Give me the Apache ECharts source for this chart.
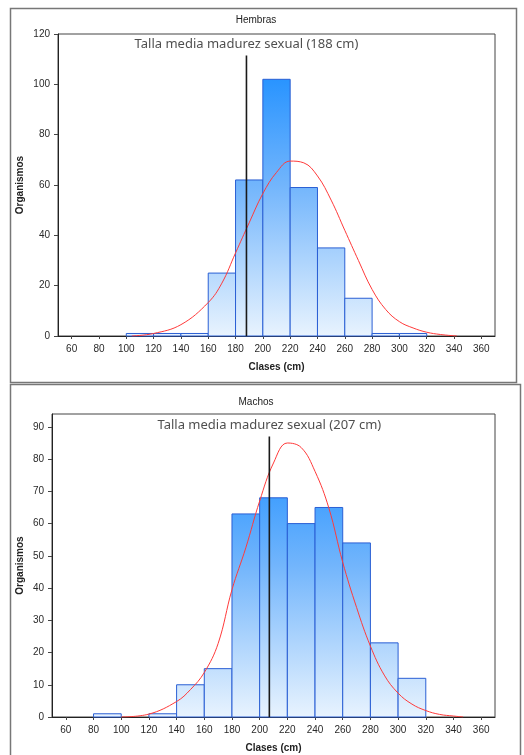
<!DOCTYPE html>
<html>
<head>
<meta charset="utf-8">
<script src="https://cdn.jsdelivr.net/npm/echarts@6/dist/echarts.min.js"></script>
<style>
  html, body { margin: 0; padding: 0; background: #ffffff; }
  #chart { width: 524px; height: 755px; }
</style>
</head>
<body>
<div id="chart"></div>
<script>
// Histogram classes (cm): each bin starts at a value and is 20 cm wide
const binStarts = [80, 100, 120, 140, 160, 180, 200, 220, 240, 260, 280, 300];
const binWidth = 20;

// Number of organisms per class
const hembrasCounts = [0, 1, 1, 1, 25, 62, 102, 59, 35, 15, 1, 1];
const machosCounts  = [1, 0, 1, 10, 15, 63, 68, 60, 65, 54, 23, 12];

// Fitted normal curves (cm, organisms)
const hembrasCurveX = [104, 120, 140, 160, 170, 180, 190, 200, 210, 220, 230, 240, 250, 260, 270, 280, 290, 300, 310, 320, 330, 342];
const hembrasCurveY = [0, 1, 4.5, 13.3, 21, 33, 45, 56.6, 65, 69.5, 68.8, 63.6, 54, 42, 30, 18.5, 10.5, 5.7, 3.2, 1.5, 0.6, 0];
const machosCurveX = [100, 120, 140, 150, 160, 170, 180, 190, 200, 210, 220, 230, 240, 250, 260, 270, 280, 290, 300, 310, 320, 330, 340, 347];
const machosCurveY = [0, 0.9, 4.8, 8.5, 13.8, 22.8, 39.5, 52.5, 67, 78.8, 85, 83.6, 76.2, 64.8, 48, 34, 22, 13, 7.4, 4, 2, 0.8, 0.3, 0];

// Mean length at sexual maturity and the height of its marker line
const hembrasMean = 188, hembrasMeanTop = 111.5;
const machosMean = 207, machosMeanTop = 87;

// Axis ticks
const xTicks = [60, 80, 100, 120, 140, 160, 180, 200, 220, 240, 260, 280, 300, 320, 340, 360];
const hembrasYTicks = [0, 20, 40, 60, 80, 100, 120];
const machosYTicks = [0, 10, 20, 30, 40, 50, 60, 70, 80, 90];

const FONT = "'Liberation Sans', Arial, sans-serif";
const barStops = [
  { offset: 0, color: '#1c8cff' },
  { offset: 0.15, color: '#2994ff' },
  { offset: 0.5, color: '#72b5fc' },
  { offset: 1, color: '#e8f3fe' }
];

function pairs(xs, ys) { return xs.map((x, i) => [x, ys[i]]); }

function barSeries(idx, counts, yMax) {
  return {
    type: 'custom',
    xAxisIndex: idx, yAxisIndex: idx,
    data: binStarts.map((s, i) => [s, s + binWidth, counts[i]]).filter(d => d[2] > 0),
    encode: { x: [0, 1], y: 2 },
    renderItem(params, api) {
      const base = api.coord([api.value(0), 0]);
      const top = api.coord([api.value(1), api.value(2)]);
      const plotTop = api.coord([api.value(0), yMax])[1];
      return {
        type: 'rect',
        shape: { x: base[0], y: top[1], width: top[0] - base[0], height: base[1] - top[1] },
        style: {
          fill: new echarts.graphic.LinearGradient(0, plotTop, 0, base[1], barStops, true),
          stroke: '#2a5fd4',
          lineWidth: 1
        }
      };
    },
    z: 2
  };
}

function curveSeries(idx, xs, ys) {
  return {
    type: 'line', xAxisIndex: idx, yAxisIndex: idx,
    data: pairs(xs, ys), smooth: 0.4, symbol: 'none',
    lineStyle: { color: '#ff3a3a', width: 1 }, z: 4
  };
}

function meanSeries(idx, mean, topVal) {
  return [{
    type: 'line', xAxisIndex: idx, yAxisIndex: idx,
    data: [[mean, 0], [mean, topVal]], symbol: 'none',
    lineStyle: { color: '#1a1a1a', width: 1.6 }, z: 5
  }, {
    type: 'scatter', xAxisIndex: idx, yAxisIndex: idx,
    data: [[mean, topVal]], symbolSize: 1,
    itemStyle: { color: 'rgba(0,0,0,0)' },
    label: {
      show: true, position: 'top', distance: 4,
      formatter: 'Talla media madurez sexual (' + mean + ' cm)',
      fontFamily: "'Noto Sans', sans-serif", fontSize: 13, color: '#222'
    },
    z: 6
  }];
}

function xAxisCfg(idx) {
  return {
    type: 'value', gridIndex: idx, min: 50, max: 370,
    name: 'Clases (cm)', nameLocation: 'middle', nameGap: 26, nameMoveOverlap: false,
    nameTextStyle: { fontFamily: FONT, fontSize: 10, fontWeight: 'bold', color: '#222' },
    axisLine: { lineStyle: { color: '#222', width: 1 } },
    axisTick: { show: true, length: 3, customValues: xTicks, lineStyle: { color: '#444' } },
    axisLabel: { customValues: xTicks, margin: 8, fontFamily: FONT, fontSize: 10, color: '#2a2a2a' },
    splitLine: { show: false }
  };
}

function yAxisCfg(idx, max, ticks) {
  return {
    type: 'value', gridIndex: idx, min: 0, max: max,
    name: 'Organismos', nameLocation: 'middle', nameGap: idx === 0 ? 33 : 27, nameMoveOverlap: false,
    nameTextStyle: { fontFamily: FONT, fontSize: 10, fontWeight: 'bold', color: '#222' },
    axisLine: { show: true, lineStyle: { color: '#222', width: 1 } },
    axisTick: { show: true, length: 4, customValues: ticks, lineStyle: { color: '#444' } },
    axisLabel: { customValues: ticks, margin: 8, fontFamily: FONT, fontSize: 10, color: '#2a2a2a' },
    splitLine: { show: false }
  };
}

const hembrasMax = 120, machosMax = 94;

const chart = echarts.init(document.getElementById('chart'), null, { renderer: 'canvas' });
chart.setOption({
  animation: false,
  backgroundColor: '#ffffff',
  grid: [
    { left: 58, top: 34, width: 437, height: 302, show: true, borderColor: '#444', borderWidth: 1, backgroundColor: '#fff' },
    { left: 52, top: 414, width: 443, height: 303, show: true, borderColor: '#444', borderWidth: 1, backgroundColor: '#fff' }
  ],
  xAxis: [xAxisCfg(0), xAxisCfg(1)],
  yAxis: [yAxisCfg(0, hembrasMax, hembrasYTicks), yAxisCfg(1, machosMax, machosYTicks)],
  graphic: [
    { type: 'rect', shape: { x: 10.5, y: 8.5, width: 506, height: 374 }, style: { fill: null, stroke: '#777', lineWidth: 1.5 }, silent: true },
    { type: 'rect', shape: { x: 10.5, y: 384.5, width: 510, height: 380 }, style: { fill: null, stroke: '#777', lineWidth: 1.5 }, silent: true },
    { type: 'text', x: 256, y: 20, style: { text: 'Hembras', font: '10px ' + FONT, fill: '#222', textAlign: 'center', textVerticalAlign: 'middle' } },
    { type: 'text', x: 256, y: 402, style: { text: 'Machos', font: '10px ' + FONT, fill: '#222', textAlign: 'center', textVerticalAlign: 'middle' } }
  ],
  series: [
    barSeries(0, hembrasCounts, hembrasMax),
    curveSeries(0, hembrasCurveX, hembrasCurveY),
    ...meanSeries(0, hembrasMean, hembrasMeanTop),
    barSeries(1, machosCounts, machosMax),
    curveSeries(1, machosCurveX, machosCurveY),
    ...meanSeries(1, machosMean, machosMeanTop)
  ]
});
</script>
</body>
</html>
